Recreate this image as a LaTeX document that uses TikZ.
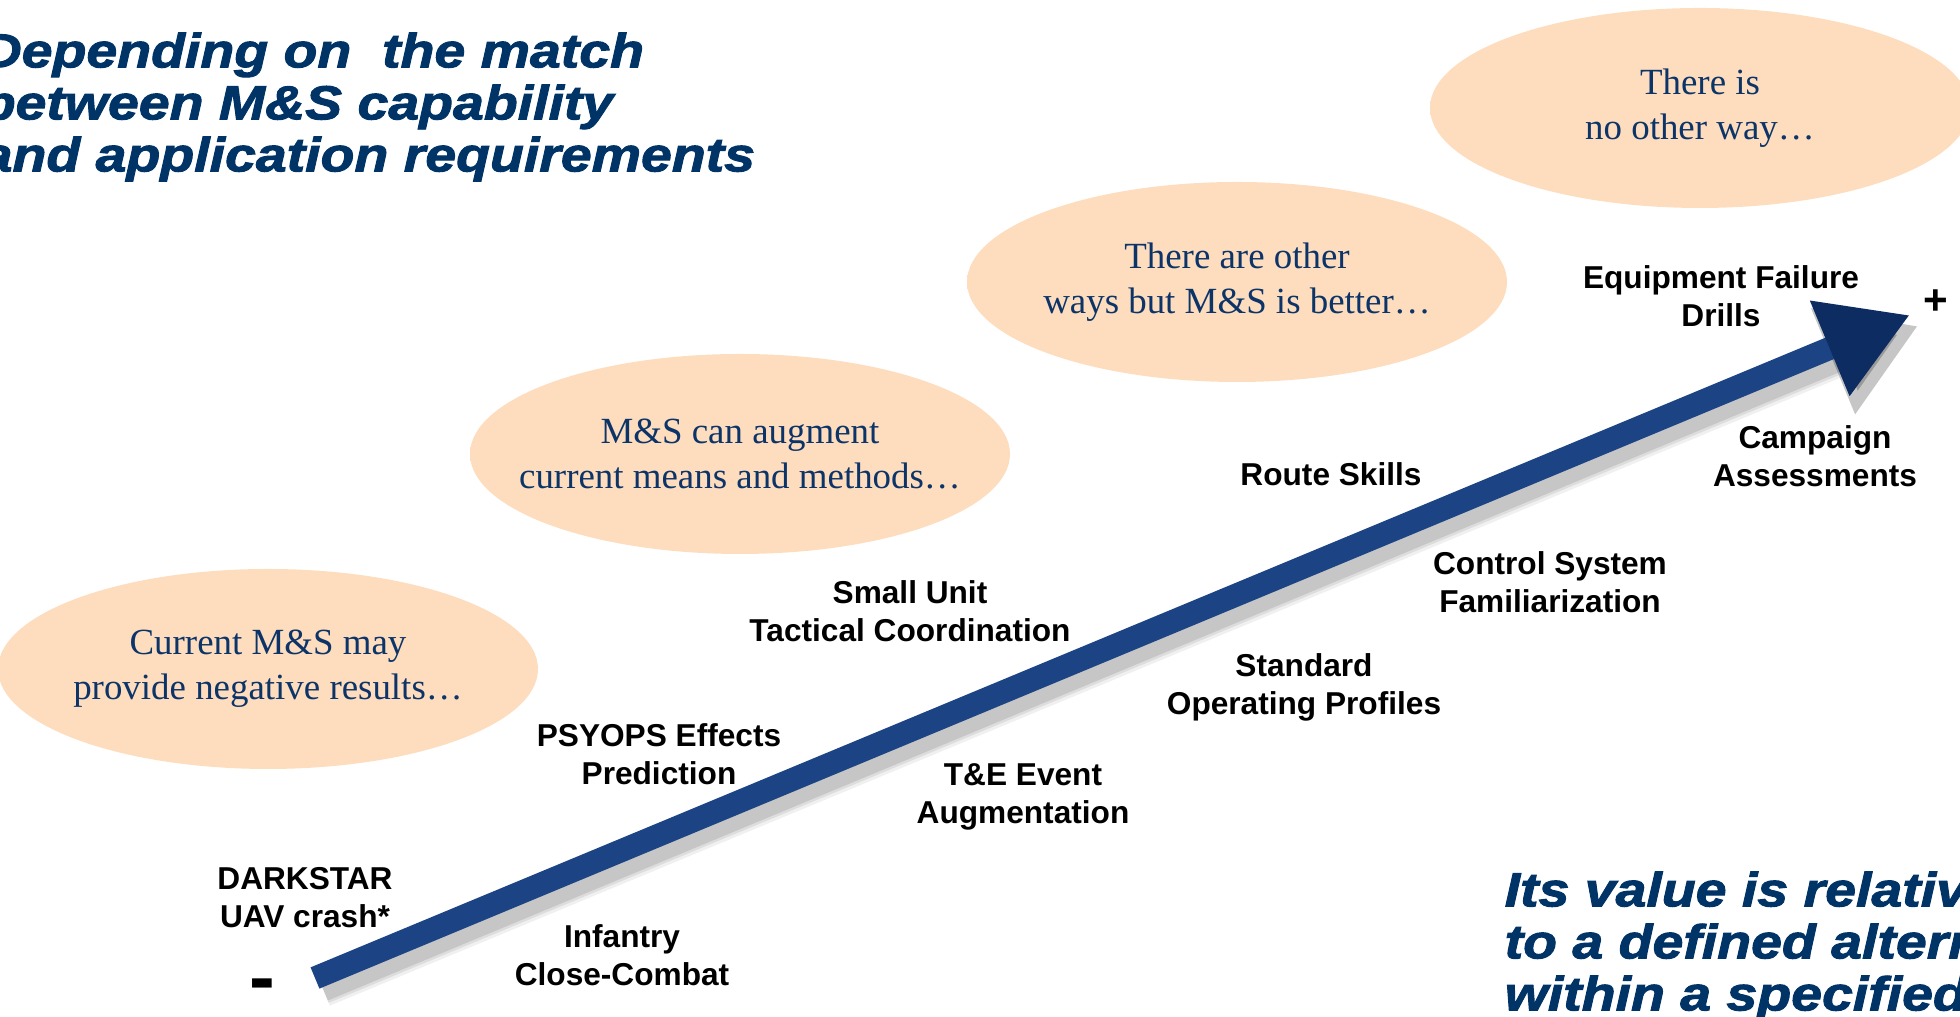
\documentclass[tikz,border=0pt]{standalone}
\usepackage{fontspec}
\setmainfont{Liberation Serif}
\setsansfont{Liberation Sans}
\newfontfamily\heavyital[FakeStretch=1.16,FakeBold=2]{Liberation Sans}
\usepackage{xcolor}
\usetikzlibrary{arrows.meta,shapes.geometric,positioning,backgrounds}
\definecolor{titlenavy}{RGB}{0,51,102}
\definecolor{bubbletext}{RGB}{12,52,104}
\definecolor{peach}{RGB}{253,221,190}
\definecolor{arrowblue}{RGB}{28,68,132}
\definecolor{arrowdark}{RGB}{12,44,98}
\pgfdeclareradialshading{peachglow}{\pgfpoint{0bp}{0bp}}{%
  color(0bp)=(peach); color(30bp)=(peach); color(40bp)=(peach!70!white);
  color(50bp)=(white)}

\begin{document}
\begin{tikzpicture}[
  bubble/.style={align=center, inner sep=0pt, text=bubbletext,
    font=\fontsize{10.5}{12.8}\selectfont},
  glow/.style={shading=peachglow},
  item/.style={align=center, inner sep=0pt,
    font=\sffamily\bfseries\fontsize{9}{10.8}\selectfont},
  heading/.style={align=left, anchor=west, inner sep=0pt, text=titlenavy,
    font=\heavyital\bfseries\itshape\fontsize{13.6}{14.8}\selectfont}]

% ── Frame: 1 px of the slide = 0.01 cm ──────────────────────────────────────
\path[clip, use as bounding box] (0,0) rectangle (19.6,10.17);

% ════════════════════════════════════════════════════════════════════════════
% BUBBLES
% ════════════════════════════════════════════════════════════════════════════
\node[bubble] (negres)  at (2.68,3.48)  {Current M\&S may\\provide negative results…};
\node[bubble] (augment) at (7.40,5.63)  {M\&S can augment\\current means and methods…};
\node[bubble] (better)  at (12.37,7.35) {There are other\\ways but M\&S is better…};
\node[bubble] (noother) at (17.00,9.09) {There is\\no other way…};

% soft peach clouds behind the texts
\begin{scope}[on background layer]
  \foreach \b in {negres,augment,better,noother}
    \path[glow] (\b.center) ellipse [x radius=2.70cm, y radius=1.0cm];
\end{scope}

% ════════════════════════════════════════════════════════════════════════════
% VALUE ARROW
% ════════════════════════════════════════════════════════════════════════════
\coordinate (low)  at (3.15,0.39);
\coordinate (high) at (19.10,7.02);

% soft drop shadow
\foreach \w/\o in {0.36/0.06, 0.30/0.08, 0.25/0.10}{
  \draw[line width=\w cm, black, opacity=\o,
        -{Triangle[length=0.92cm, width=1.08cm]}]
    ([shift={(0.08,-0.11)}]low) -- ([shift={(0.08,-0.11)}]high);
}
\draw[line width=0.23cm, arrowblue,
      -{Triangle[length=0.87cm, width=0.97cm, color=arrowdark]}]
  (low) -- (high);

% ends of the scale
\node[item, font=\sffamily\bfseries\fontsize{22}{22}\selectfont] (minus) at (2.62,0.26) {-};
\node[item, font=\sffamily\bfseries\fontsize{12}{12}\selectfont] (plus)  at (19.36,7.15) {+};

% ════════════════════════════════════════════════════════════════════════════
% APPLICATIONS
% ════════════════════════════════════════════════════════════════════════════
\node[item] (darkstar) at (3.05,1.19)  {DARKSTAR\\UAV crash*};
\node[item] (infantry) at (6.22,0.62)  {Infantry\\Close-Combat};
\node[item] (psyops)   at (6.59,2.63)  {PSYOPS Effects\\Prediction};
\node[item] (smallunit) at (9.10,4.06) {Small Unit\\Tactical Coordination};
\node[item] (tande)    at (10.23,2.20) {T\&E Event\\Augmentation};
\node[item] (route)    at (13.31,5.43) {Route Skills};
\node[item] (sop)      at (13.04,3.30) {Standard\\Operating Profiles};
\node[item] (control)  at (15.50,4.35) {Control System\\Familiarization};
\node[item] (equip)    at (17.21,7.21) {Equipment Failure\\Drills};
\node[item] (campaign) at (18.15,5.61) {Campaign\\Assessments};

% ════════════════════════════════════════════════════════════════════════════
% HEADINGS (cut by the frame)
% ════════════════════════════════════════════════════════════════════════════
\node[heading] (match) at (-0.19,9.10)
  {Depending on\ \ the match\\between M\&S capability\\and application requirements};
\node[heading] (relative) at (15.04,0.71)
  {Its value is relative\\to a defined alternative\\within a specified};

\end{tikzpicture}
\end{document}
